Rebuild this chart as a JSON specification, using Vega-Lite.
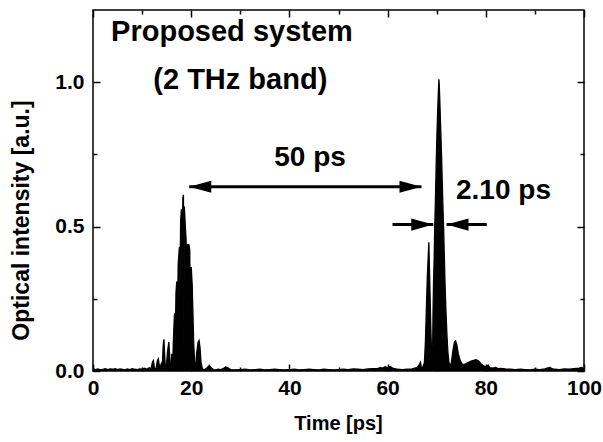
{
  "$schema": "https://vega.github.io/schema/vega-lite/v6.json",
  "width": 491,
  "height": 361,
  "autosize": "none",
  "padding": {"left": 93, "top": 10, "right": 19, "bottom": 71},
  "background": "white",
  "config": {
    "view": {"stroke": "black", "strokeWidth": 1.5},
    "font": "Liberation Sans",
    "axis": {
      "grid": false,
      "domain": false,
      "tickColor": "black",
      "tickWidth": 1.5,
      "labelFont": "Liberation Sans",
      "labelFontWeight": "bold",
      "labelFontSize": 21,
      "labelColor": "black",
      "titleFont": "Liberation Sans",
      "titleFontWeight": "bold",
      "titleFontSize": 20,
      "titleColor": "black"
    }
  },
  "resolve": {"axis": {"x": "independent", "y": "independent"}},
  "layer": [
    {
      "data": {"values": [
        {"t":0,"v":0.008},{"t":0.5,"v":0.005},{"t":1,"v":0.007},{"t":1.5,"v":0.004},{"t":2,"v":0.006},{"t":2.5,"v":0.008},{"t":3,"v":0.005},{"t":3.5,"v":0.007},{"t":4,"v":0.006},{"t":4.5,"v":0.008},{"t":5,"v":0.005},{"t":5.5,"v":0.007},{"t":6,"v":0.006},{"t":6.5,"v":0.004},{"t":7,"v":0.007},{"t":7.5,"v":0.005},{"t":8,"v":0.008},{"t":8.5,"v":0.006},{"t":9,"v":0.005},{"t":9.5,"v":0.007},{"t":10,"v":0.006},{"t":10.5,"v":0.01},{"t":11,"v":0.006},{"t":11.5,"v":0.012},
        {"t":11.8,"v":0.005},{"t":12.1,"v":0.03},{"t":12.3,"v":0.036},{"t":12.5,"v":0.01},{"t":12.8,"v":0.005},{"t":13.1,"v":0.035},{"t":13.3,"v":0.042},{"t":13.6,"v":0.008},{"t":13.9,"v":0.025},{"t":14.1,"v":0.015},{"t":14.3,"v":0.09},{"t":14.45,"v":0.11},{"t":14.7,"v":0.02},{"t":14.9,"v":0.008},{"t":15.2,"v":0.07},{"t":15.45,"v":0.1},{"t":15.7,"v":0.03},{"t":15.9,"v":0.01},{"t":16.05,"v":0.06},
        {"t":16.2,"v":0.01},{"t":16.4,"v":0.12},{"t":16.6,"v":0.2},{"t":16.75,"v":0.1},{"t":16.9,"v":0.27},{"t":17.05,"v":0.31},{"t":17.2,"v":0.18},{"t":17.35,"v":0.37},{"t":17.6,"v":0.43},{"t":17.7,"v":0.25},{"t":17.85,"v":0.52},{"t":18.0,"v":0.56},{"t":18.15,"v":0.35},{"t":18.3,"v":0.6},{"t":18.42,"v":0.61},{"t":18.5,"v":0.05},{"t":18.6,"v":0.57},{"t":18.8,"v":0.5},{"t":18.95,"v":0.46},{"t":19.1,"v":0.25},{"t":19.25,"v":0.44},{"t":19.4,"v":0.04},{"t":19.5,"v":0.44},{"t":19.7,"v":0.42},{"t":19.9,"v":0.04},{"t":20.0,"v":0.36},{"t":20.2,"v":0.3},{"t":20.35,"v":0.2},{"t":20.5,"v":0.1},{"t":20.7,"v":0.03},{"t":20.9,"v":0.01},
        {"t":21.1,"v":0.06},{"t":21.4,"v":0.1},{"t":21.6,"v":0.106},{"t":21.8,"v":0.08},{"t":22.0,"v":0.03},{"t":22.3,"v":0.006},{"t":22.8,"v":0.005},{"t":23.3,"v":0.012},{"t":23.7,"v":0.02},{"t":24.0,"v":0.012},{"t":24.5,"v":0.005},{"t":25,"v":0.004},{"t":25.5,"v":0.006},{"t":26,"v":0.005},{"t":26.5,"v":0.008},{"t":27,"v":0.014},{"t":27.4,"v":0.012},{"t":28,"v":0.005},{"t":29,"v":0.004},{"t":30,"v":0.005},
        {"t":31,"v":0.006},{"t":32,"v":0.004},{"t":33,"v":0.005},{"t":34,"v":0.006},{"t":35,"v":0.004},{"t":36,"v":0.005},{"t":37,"v":0.006},{"t":38,"v":0.005},{"t":39,"v":0.004},{"t":40,"v":0.005},{"t":41,"v":0.006},{"t":42,"v":0.004},{"t":43,"v":0.005},{"t":44,"v":0.006},{"t":45,"v":0.005},{"t":46,"v":0.004},{"t":47,"v":0.006},{"t":48,"v":0.005},{"t":49,"v":0.004},{"t":50,"v":0.005},{"t":51,"v":0.006},{"t":52,"v":0.005},{"t":53,"v":0.007},{"t":54,"v":0.006},{"t":55,"v":0.005},{"t":56,"v":0.007},{"t":57,"v":0.008},
        {"t":58,"v":0.008},{"t":58.5,"v":0.012},{"t":59,"v":0.01},{"t":59.5,"v":0.015},{"t":60,"v":0.012},{"t":60.5,"v":0.016},{"t":61,"v":0.01},{"t":61.5,"v":0.008},{"t":62,"v":0.006},{"t":63,"v":0.005},{"t":64,"v":0.006},{"t":65,"v":0.007},{"t":65.5,"v":0.01},{"t":66,"v":0.012},{"t":66.4,"v":0.02},{"t":66.7,"v":0.03},{"t":66.9,"v":0.01},{"t":67.2,"v":0.015},{"t":67.5,"v":0.03},{"t":67.7,"v":0.1},{"t":67.9,"v":0.22},{"t":68.1,"v":0.33},{"t":68.4,"v":0.446},{"t":68.6,"v":0.3},{"t":68.8,"v":0.15},{"t":69.0,"v":0.04},{"t":69.1,"v":0.02},
        {"t":69.15,"v":0.03},{"t":69.25,"v":0.2},{"t":69.35,"v":0.3},{"t":69.5,"v":0.4},{"t":69.6,"v":0.5},{"t":69.75,"v":0.6},{"t":69.9,"v":0.72},{"t":70.05,"v":0.82},{"t":70.2,"v":0.9},{"t":70.35,"v":0.97},{"t":70.45,"v":1.01},{"t":70.55,"v":0.98},{"t":70.7,"v":0.9},{"t":70.85,"v":0.82},{"t":71.0,"v":0.74},{"t":71.15,"v":0.64},{"t":71.3,"v":0.55},{"t":71.4,"v":0.5},{"t":71.55,"v":0.4},{"t":71.7,"v":0.3},{"t":71.9,"v":0.2},{"t":72.1,"v":0.12},{"t":72.3,"v":0.06},{"t":72.5,"v":0.03},{"t":72.7,"v":0.015},
        {"t":73.0,"v":0.03},{"t":73.3,"v":0.07},{"t":73.6,"v":0.1},{"t":73.85,"v":0.104},{"t":74.1,"v":0.09},{"t":74.4,"v":0.06},{"t":74.8,"v":0.035},{"t":75.2,"v":0.024},{"t":75.6,"v":0.022},{"t":76.0,"v":0.026},{"t":76.5,"v":0.03},{"t":77.0,"v":0.034},{"t":77.5,"v":0.037},{"t":78.0,"v":0.039},{"t":78.5,"v":0.035},{"t":79.0,"v":0.025},{"t":79.5,"v":0.018},{"t":80.0,"v":0.015},{"t":80.5,"v":0.02},{"t":80.8,"v":0.012},{"t":81.5,"v":0.01},{"t":82,"v":0.012},{"t":82.5,"v":0.008},{"t":83,"v":0.009},{"t":84,"v":0.007},{"t":85,"v":0.006},{"t":86,"v":0.005},{"t":87,"v":0.006},{"t":88,"v":0.005},{"t":89,"v":0.004},{"t":90,"v":0.006},{"t":91,"v":0.005},{"t":92,"v":0.007},{"t":92.5,"v":0.01},{"t":93,"v":0.012},{"t":93.5,"v":0.008},{"t":94,"v":0.006},{"t":95,"v":0.005},{"t":96,"v":0.007},{"t":97,"v":0.006},{"t":98,"v":0.008},{"t":99,"v":0.01},{"t":99.5,"v":0.012},{"t":100,"v":0.008}
      ]},
      "mark": {"type": "area", "color": "black", "stroke": "black", "strokeWidth": 1.3, "opacity": 1, "clip": true},
      "encoding": {
        "x": {"field": "t", "type": "quantitative",
          "scale": {"domain": [0, 100], "nice": false, "zero": false},
          "axis": {"orient": "bottom", "values": [0, 20, 40, 60, 80, 100], "tickSize": -7, "labelPadding": 13, "labelFlush": false, "labelOverlap": false,
            "title": "Time [ps]", "titleX": 245, "titleY": 58, "titleBaseline": "alphabetic", "titleAnchor": null, "titleAlign": "center"}},
        "y": {"field": "v", "type": "quantitative",
          "scale": {"domain": [0, 1.25], "nice": false, "zero": false},
          "axis": {"orient": "left", "values": [0, 0.5, 1.0], "format": ".1f", "tickSize": -7, "labelPadding": 16, "labelFlush": false, "labelOverlap": false,
            "title": "Optical intensity [a.u.]", "titleFontSize": 23, "titleX": -72, "titleY": 210, "titleAngle": -90, "titleBaseline": "middle", "titleAlign": "center"}}
      }
    },
    {
      "data": {"values": [
        {"a": 19.6, "b": 66.9, "y": 0.638},
        {"a": 61.0, "b": 69.3, "y": 0.507},
        {"a": 72.0, "b": 80.2, "y": 0.507}
      ]},
      "mark": {"type": "rule", "color": "black", "strokeWidth": 3},
      "encoding": {
        "x": {"field": "a", "type": "quantitative", "axis": {"orient": "bottom", "values": [10, 30, 50, 70, 90], "tickSize": -4, "labels": false, "title": null}},
        "x2": {"field": "b"},
        "y": {"field": "y", "type": "quantitative", "axis": {"orient": "left", "values": [0.25, 0.75], "tickSize": -4, "labels": false, "title": null}}
      }
    },
    {
      "data": {"values": [
        {"x": 19.6, "y": 0.638, "dir": "L"},
        {"x": 66.9, "y": 0.638, "dir": "R"},
        {"x": 69.3, "y": 0.507, "dir": "R"},
        {"x": 72.0, "y": 0.507, "dir": "L"}
      ]},
      "mark": {"type": "point", "filled": true, "color": "black", "opacity": 1, "size": 484},
      "encoding": {
        "x": {"field": "x", "type": "quantitative", "axis": {"orient": "top", "values": [0, 20, 40, 60, 80, 100], "tickSize": -7, "labels": false, "title": null}},
        "y": {"field": "y", "type": "quantitative", "axis": {"orient": "right", "values": [0, 0.5, 1.0], "tickSize": -7, "labels": false, "title": null}},
        "shape": {"field": "dir", "type": "nominal", "legend": null,
          "scale": {"domain": ["L", "R"], "range": ["M 0 0 L 2 -0.55 L 2 0.55 Z", "M 0 0 L -2 -0.55 L -2 0.55 Z"]}}
      }
    },
    {
      "data": {"values": [
        {"x": 28.3, "y": 1.141, "label": "Proposed system", "size": 29},
        {"x": 30.0, "y": 0.976, "label": "(2 THz band)", "size": 29},
        {"x": 44.2, "y": 0.710, "label": "50 ps", "size": 28},
        {"x": 83.6, "y": 0.596, "label": "2.10 ps", "size": 28}
      ]},
      "mark": {"type": "text", "font": "Liberation Sans", "fontWeight": "bold", "color": "black", "align": "center", "baseline": "alphabetic"},
      "encoding": {
        "x": {"field": "x", "type": "quantitative", "axis": {"orient": "top", "values": [10, 30, 50, 70, 90], "tickSize": -4, "labels": false, "title": null}},
        "y": {"field": "y", "type": "quantitative", "axis": {"orient": "right", "values": [0.25, 0.75], "tickSize": -4, "labels": false, "title": null}},
        "text": {"field": "label"},
        "size": {"field": "size", "type": "quantitative", "scale": null, "legend": null}
      }
    }
  ]
}
